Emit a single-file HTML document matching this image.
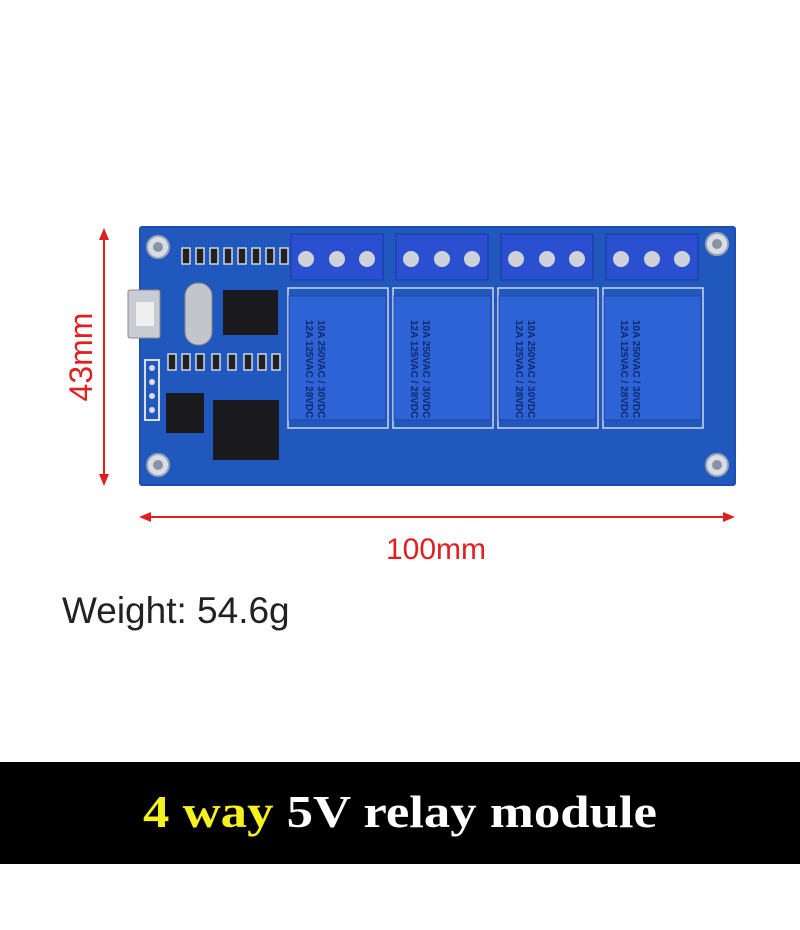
<!DOCTYPE html>
<html><head><meta charset="utf-8"><style>
html,body{margin:0;padding:0;background:#fff;}
svg{display:block}
</style></head><body>
<svg width="800" height="930" viewBox="0 0 800 930" xmlns="http://www.w3.org/2000/svg">
<rect width="800" height="930" fill="#fff"/>
<!-- PCB -->
<rect x="139" y="226" width="597" height="260" fill="#1c4fb0" rx="3"/>
<rect x="141" y="228" width="593" height="256" fill="#2058bd" rx="2"/>
<!-- mounting holes -->
<g fill="#d8dde6" stroke="#9aa3b3" stroke-width="2">
<circle cx="158" cy="247" r="11"/><circle cx="717" cy="244" r="11"/>
<circle cx="158" cy="465" r="11"/><circle cx="717" cy="465" r="11"/>
</g>
<g fill="#8a93a3"><circle cx="158" cy="247" r="5"/><circle cx="717" cy="244" r="5"/><circle cx="158" cy="465" r="5"/><circle cx="717" cy="465" r="5"/></g>
<!-- smd row top -->
<g fill="#222" stroke="#cfd6e3" stroke-width="1.5">
<rect x="182" y="248" width="8" height="16"/><rect x="196" y="248" width="8" height="16"/><rect x="210" y="248" width="8" height="16"/><rect x="224" y="248" width="8" height="16"/><rect x="238" y="248" width="8" height="16"/><rect x="252" y="248" width="8" height="16"/><rect x="266" y="248" width="8" height="16"/><rect x="280" y="248" width="8" height="16"/>
<rect x="168" y="354" width="8" height="16"/><rect x="182" y="354" width="8" height="16"/><rect x="196" y="354" width="8" height="16"/><rect x="212" y="354" width="8" height="16"/><rect x="228" y="354" width="8" height="16"/><rect x="244" y="354" width="8" height="16"/><rect x="258" y="354" width="8" height="16"/><rect x="272" y="354" width="8" height="16"/>
</g>
<!-- USB -->
<rect x="128" y="290" width="32" height="48" fill="#c9ccd2" stroke="#888" rx="2"/>
<rect x="136" y="302" width="18" height="24" fill="#eee"/>
<!-- crystal -->
<rect x="185" y="283" width="27" height="62" rx="13" fill="#c2c6cc" stroke="#888"/>
<!-- chips -->
<rect x="223" y="290" width="55" height="45" fill="#1a1a1e"/>
<rect x="166" y="393" width="38" height="40" fill="#1a1a1e"/>
<rect x="213" y="400" width="66" height="60" fill="#1a1a1e"/>
<!-- header -->
<rect x="145" y="360" width="14" height="60" fill="#2058bd" stroke="#d8dde6" stroke-width="2"/>
<g fill="#ddd"><circle cx="152" cy="368" r="3"/><circle cx="152" cy="382" r="3"/><circle cx="152" cy="396" r="3"/><circle cx="152" cy="410" r="3"/></g>
<!-- relays -->
<g id="r">
<rect x="288" y="288" width="100" height="140" fill="none" stroke="#cfd6e3" stroke-width="1.5"/>
<rect x="291" y="234" width="92" height="46" fill="#2a4fd0" stroke="#1a3aa0"/>
<circle cx="306" cy="259" r="8" fill="#cfd3d9"/><circle cx="337" cy="259" r="8" fill="#cfd3d9"/><circle cx="367" cy="259" r="8" fill="#cfd3d9"/>
<rect x="289" y="296" width="97" height="124" fill="#2e63d6" stroke="#1d47a8"/>
<text x="0" y="0" transform="translate(318,320) rotate(90)" font-family="Liberation Sans,sans-serif" font-size="10" font-weight="bold" fill="#0e2a6e">10A 250VAC / 30VDC</text>
<text x="0" y="0" transform="translate(306,320) rotate(90)" font-family="Liberation Sans,sans-serif" font-size="10" font-weight="bold" fill="#0e2a6e">12A 125VAC / 28VDC</text>
</g>
<use href="#r" x="105"/><use href="#r" x="210"/><use href="#r" x="315"/>
<!-- dimension arrows -->
<g stroke="#e02020" stroke-width="2" fill="#e02020">
<line x1="104" y1="236" x2="104" y2="478"/>
<polygon points="104,228 99,240 109,240" stroke="none"/>
<polygon points="104,486 99,474 109,474" stroke="none"/>
<line x1="147" y1="517" x2="727" y2="517"/>
<polygon points="139,517 151,512 151,522" stroke="none"/>
<polygon points="735,517 723,512 723,522" stroke="none"/>
</g>
<text transform="translate(92,357) rotate(-90)" text-anchor="middle" font-family="Liberation Sans,sans-serif" font-size="32" fill="#e02020">43mm</text>
<text x="436" y="559" text-anchor="middle" font-family="Liberation Sans,sans-serif" font-size="30" fill="#e02020">100mm</text>
<text x="62" y="623" font-family="Liberation Sans,sans-serif" font-size="37" fill="#222">Weight: 54.6g</text>
<!-- band -->
<rect x="0" y="762" width="800" height="102" fill="#000"/>
<text x="143" y="827" font-family="Liberation Serif,serif" font-weight="bold" font-size="46" textLength="514" lengthAdjust="spacingAndGlyphs"><tspan fill="#f5f01e">4 way</tspan><tspan fill="#fff"> 5V relay module</tspan></text>
</svg>
</body></html>
